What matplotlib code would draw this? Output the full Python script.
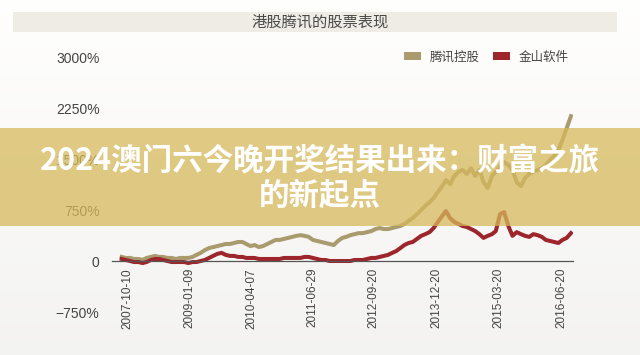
import numpy as np
import pandas as pd
import matplotlib
matplotlib.use('Agg')
import matplotlib.pyplot as plt
from matplotlib.patches import Rectangle, Patch

plt.rcParams['font.family'] = ['Liberation Sans', 'Noto Sans CJK SC', 'DejaVu Sans']

# monthly readings, cumulative return in %
dates = pd.date_range('2007-09-01', periods=109, freq='MS')
tencent = [60, 45, 45, 30, 30, 15, 45, 60, 75, 60, 60, 45, 45, 30, 45, 45, 45, 60, 90, 120,
           160, 190, 205, 220, 235, 250, 250, 265, 280, 280, 250, 220, 235, 205, 220, 250, 280, 310, 310, 325,
           340, 355, 370, 380, 370, 355, 310, 295, 280, 265, 250, 235, 295, 340, 355, 380, 395, 410, 410, 425,
           440, 470, 485, 470, 470, 485, 500, 515, 545, 590, 630, 690, 750, 810, 865, 925, 1015, 1100, 1190, 1130,
           1250, 1310, 1340, 1280, 1365, 1250, 1340, 1160, 1075, 1250, 1310, 1395, 1455, 1410, 1340, 1160, 1100, 1220, 1280, 1310,
           1340, 1365, 1410, 1485, 1545, 1630, 1780, 1955, 2130]
kingsoft = [30, 15, 0, -15, -15, -30, -15, 15, 30, 30, 15, 0, -15, -15, -15, -15, -30, -15, -15, 0,
            15, 45, 75, 105, 120, 90, 75, 75, 60, 60, 45, 45, 45, 30, 30, 30, 30, 30, 30, 45,
            45, 45, 45, 45, 60, 60, 45, 30, 15, 15, 0, 0, 0, 0, 0, 0, 15, 15, 15, 30,
            45, 45, 60, 75, 90, 120, 145, 190, 235, 265, 280, 325, 370, 395, 425, 485, 575, 660, 735, 630,
            575, 545, 515, 500, 470, 440, 395, 340, 370, 395, 440, 690, 720, 515, 370, 425, 395, 370, 355, 395,
            380, 355, 310, 295, 280, 265, 310, 340, 410]

tick_dates = ['2007-10-10', '2009-01-09', '2010-04-07', '2011-06-29',
              '2012-09-20', '2013-12-20', '2015-03-20', '2016-06-20']
y_ticks = [-750, 0, 750, 1500, 2250, 3000]
y_labels = ['\u2212750%', '0', '750%', '1500%', '2250%', '3000%']

title = '港股腾讯的股票表现'
names = ['腾讯控股', '金山软件']
colors = ['#a99b6d', '#9c262c']
banner = '2024澳门六今晚开奖结果出来：财富之旅\n的新起点'

fig = plt.figure(figsize=(6.4, 3.55), dpi=100)

# soft background gradient
bg = fig.add_axes([0, 0, 1, 1], zorder=-5)
grad = np.linspace(1.0, 0.955, 256).reshape(-1, 1)
bg.imshow(np.dstack([grad, grad * 0.998, grad * 0.99]), aspect='auto', extent=[0, 1, 0, 1])
bg.axis('off')

# title band
fig.patches.append(Rectangle((0.02, 0.9099), 0.944, 0.0563, transform=fig.transFigure,
                             facecolor='#efece6', edgecolor='none', zorder=1))
fig.text(0.5, 0.938, title, ha='center', va='center', fontsize=11, color='#4a4a4a',
         family=['Noto Sans CJK SC'])

ax = fig.add_axes([0.175, 0.1211, 0.7203, 0.7183])
ax.patch.set_alpha(0)
for s in ['top', 'right', 'left']:
    ax.spines[s].set_visible(False)
ax.spines['bottom'].set_position(('data', 0))
ax.spines['bottom'].set_color('#555555')
ax.spines['bottom'].set_linewidth(0.9)

ax.plot(dates, tencent, color=colors[0], lw=2.9, solid_joinstyle='round')
ax.plot(dates, kingsoft, color=colors[1], lw=2.9, solid_joinstyle='round')

ax.set_ylim(-750, 3000)
ax.set_xlim(pd.Timestamp('2007-06-22'), pd.Timestamp('2016-09-16'))
ax.set_yticks(y_ticks)
ax.set_yticklabels(y_labels, fontsize=10, color='#444444')
ax.set_xticks(pd.to_datetime(tick_dates))
ax.set_xticklabels(tick_dates, rotation=90, fontsize=8.5, color='#444444')
ax.tick_params(axis='both', length=0)
ax.tick_params(axis='y', pad=9)
ax.tick_params(axis='x', pad=5)

handles = [Patch(facecolor=c, edgecolor='none') for c in colors]
leg = fig.legend(handles, names, loc='center', bbox_to_anchor=(0.76, 0.839), ncol=2,
                 frameon=False, handlelength=1.4, handleheight=0.6,
                 columnspacing=1.0, handletextpad=0.7,
                 prop={'family': ['Noto Sans CJK SC'], 'size': 9})
for t in leg.get_texts():
    t.set_color('#444444')

# overlay banner
fig.patches.append(Rectangle((0, 0.3634), 1, 0.276, transform=fig.transFigure,
                             facecolor='#d6b95c', alpha=0.75, edgecolor='none', zorder=5))
fig.text(0.5, 0.497, banner, ha='center', va='center', fontsize=22, color='white',
         fontweight='bold', linespacing=1.12, family=['Noto Sans CJK SC'], zorder=6)

fig.savefig('out.png', dpi=100)
